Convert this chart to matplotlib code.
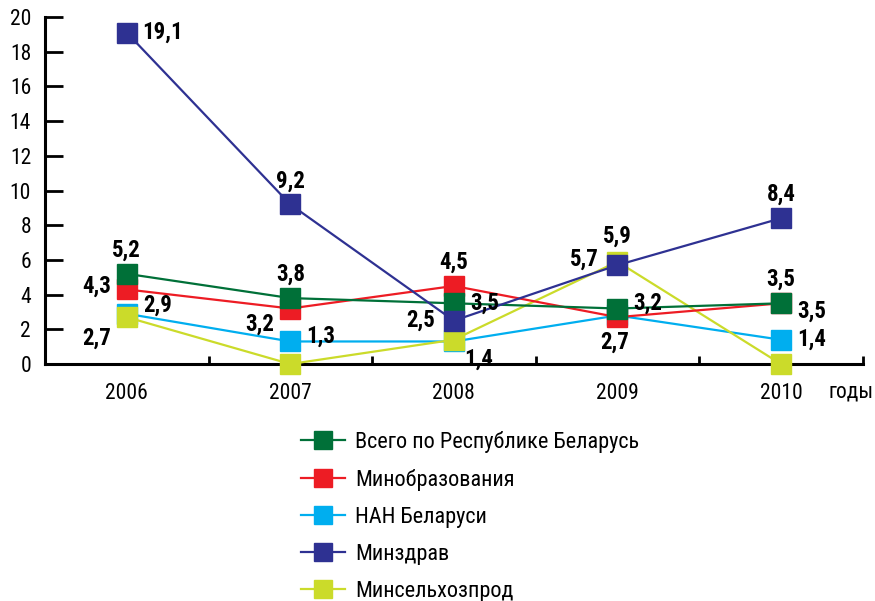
import matplotlib
matplotlib.use('Agg')
import matplotlib.pyplot as plt
import numpy as np

plt.rcParams['font.family'] = ['Roboto Condensed', 'DejaVu Sans']

years = ['2006', '2007', '2008', '2009', '2010']
series_names = ['Всего по Республике Беларусь', 'Минобразования', 'НАН Беларуси',
                'Минздрав', 'Минсельхозпрод']
vsego = [5.2, 3.8, 3.5, 3.2, 3.5]
minobr = [4.3, 3.2, 4.5, 2.7, 3.5]
nan = [2.9, 1.3, 1.3, 2.8, 1.4]
minzdrav = [19.1, 9.2, 2.5, 5.7, 8.4]
minselhoz = [2.7, 0.0, 1.4, 5.9, 0.0]

colors = ['#007038', '#ED1C24', '#00AEEF', '#2E3192', '#CBDB2A']
zorders = [6, 5, 3, 7, 4]

# label offsets in points (dx, dy), None = no label
offsets = [
    [(0, 17), (0, 17), (22, 0), (22, 4), (0, 17)],        # vsego
    [(-22, 2), (-22, -11), (0, 17), (-2, -18), (22, -6)],  # minobr
    [(22, 6), (22, 4), None, None, (22, 0)],               # nan
    [(26, 0), (0, 17), (-24, 0), (-24, 4), (0, 17)],       # minzdrav
    [(-22, -15), None, (18, -14), (0, 18), None],          # minselhoz
]

data = [vsego, minobr, nan, minzdrav, minselhoz]
x = np.arange(len(years))

fig = plt.figure(figsize=(8.75, 6.01), dpi=100)
ax = fig.add_axes([0.0514, 0.3943, 0.9346, 0.5774])

for vals, name, c, z, offs in zip(data, series_names, colors, zorders, offsets):
    ax.plot(x, vals, color=c, lw=1.6, marker='s', markersize=14, label=name, zorder=z,
            clip_on=False)
    for xi, v, o in zip(x, vals, offs):
        if o is None:
            continue
        ax.annotate(f'{v:.1f}'.replace('.', ','), (xi, v), xytext=o, textcoords='offset points',
                    ha='center', va='center', fontsize=16.5, fontweight='bold', zorder=10)

ax.set_xlim(-0.5, 4.5)
ax.set_ylim(0, 20)
ax.set_yticks(np.arange(0, 21, 2))
ax.tick_params(axis='y', direction='in', length=13, width=2, labelsize=15.5, pad=10)
ax.set_xticks(x)
ax.set_xticklabels(years)
ax.set_xticks(np.arange(0.5, 4.6, 1), minor=True)
ax.tick_params(axis='x', which='major', length=0, labelsize=15.5, pad=14)
ax.tick_params(axis='x', which='minor', direction='in', length=6, width=2)
for s in ['top', 'right']:
    ax.spines[s].set_visible(False)
for s in ['left', 'bottom']:
    ax.spines[s].set_linewidth(2.2)

fig.text(851 / 875, 1 - 392 / 601, 'годы', fontsize=15.5, ha='center', va='center')

leg = ax.legend(loc='upper left', bbox_to_anchor=(281 / 875, 1 - 411 / 601),
                bbox_transform=fig.transFigure, frameon=False, fontsize=16,
                handlelength=2.0, labelspacing=0.72, handletextpad=0.45,
                markerscale=0.95)

fig.savefig('out.png', dpi=100)
